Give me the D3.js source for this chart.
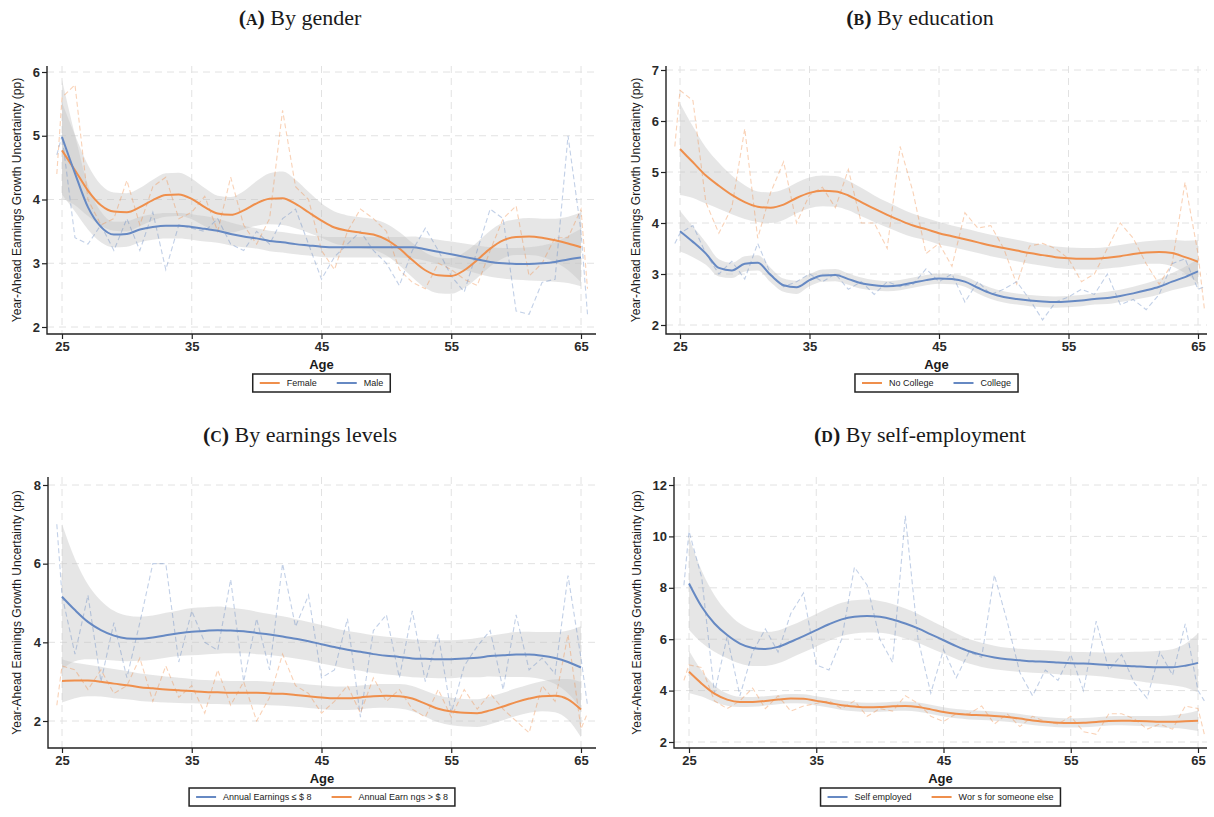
<!DOCTYPE html>
<html>
<head>
<meta charset="utf-8">
<script src="https://cdn.jsdelivr.net/npm/d3@7"></script>
<style>
  body { margin: 0; background: #fff; }
  svg { display: block; }
  .title { font-family: "Liberation Serif", "DejaVu Serif", serif; font-size: 22px; fill: #1a1a1a; }
  .tick text { font-family: "Liberation Sans", Arial, sans-serif; font-size: 13px; font-weight: bold; fill: #2a2a2a; }
  .label { font-family: "Liberation Sans", Arial, sans-serif; fill: #1a1a1a; }
  .legend text { font-family: "Liberation Sans", Arial, sans-serif; font-size: 9px; fill: #1a1a1a; }
</style>
</head>
<body>
<svg id="chart" width="1214" height="817"></svg>
<script>
// raw series: first and last points sit just outside 25 / 65
const rawAges = [24.6,
  25, 26, 27, 28, 29, 30, 31, 32, 33, 34,
  35, 36, 37, 38, 39, 40, 41, 42, 43, 44,
  45, 46, 47, 48, 49, 50, 51, 52, 53, 54,
  55, 56, 57, 58, 59, 60, 61, 62, 63, 64,
  65, 65.5];
const fitAges = [
  25, 26, 27, 28, 29, 30, 31, 32, 33, 34,
  35, 36, 37, 38, 39, 40, 41, 42, 43, 44,
  45, 46, 47, 48, 49, 50, 51, 52, 53, 54,
  55, 56, 57, 58, 59, 60, 61, 62, 63, 64,
  65];
const xTicks = [25, 35, 45, 55, 65];

// (A) gender
const femaleRaw = [4.4,
  5.6, 5.8, 4.0, 3.6, 3.7, 4.3, 3.6, 4.2, 4.35, 3.7,
  3.8, 4.05, 3.5, 4.35, 3.6, 3.3, 3.7, 5.4, 4.2, 4.0,
  3.2, 2.9, 3.5, 3.85, 3.7, 3.5, 2.9, 2.7, 2.6, 3.0,
  2.9, 2.75, 2.65, 3.2, 3.7, 3.9, 2.8, 3.0, 3.4, 3.4,
  3.85, 2.6];
const femaleFit = [
  4.77, 4.46, 4.14, 3.91, 3.81, 3.80, 3.88, 3.99, 4.07, 4.08,
  4.01, 3.88, 3.78, 3.76, 3.83, 3.94, 4.01, 4.02, 3.93, 3.80,
  3.67, 3.56, 3.51, 3.48, 3.45, 3.37, 3.23, 3.05, 2.89, 2.81,
  2.80, 2.89, 3.05, 3.23, 3.36, 3.41, 3.42, 3.40, 3.36, 3.31,
  3.25];
const femaleCI = [
  0.75, 0.55, 0.4, 0.32, 0.3, 0.3, 0.3, 0.32, 0.34, 0.34,
  0.32, 0.3, 0.28, 0.28, 0.3, 0.35, 0.4, 0.42, 0.38, 0.32,
  0.27, 0.25, 0.24, 0.24, 0.24, 0.25, 0.26, 0.27, 0.28, 0.28,
  0.28, 0.28, 0.28, 0.28, 0.28, 0.28, 0.29, 0.3, 0.34, 0.42,
  0.55];
const maleRaw = [4.7,
  5.0, 3.4, 3.3, 3.6, 3.2, 3.7, 3.2, 3.8, 2.9, 3.6,
  3.55, 3.5, 3.7, 3.3, 3.2, 3.5, 3.3, 3.7, 3.85, 3.3,
  2.75, 3.1, 3.3, 3.5, 3.2, 3.0, 2.65, 3.2, 3.55, 3.2,
  2.8, 2.55, 3.2, 3.85, 3.7, 2.25, 2.2, 2.7, 2.75, 5.0,
  3.5, 2.2];
const maleFit = [
  4.98, 4.41, 3.88, 3.57, 3.45, 3.46, 3.53, 3.57, 3.59, 3.59,
  3.57, 3.54, 3.51, 3.46, 3.42, 3.39, 3.35, 3.33, 3.30, 3.28,
  3.26, 3.25, 3.25, 3.25, 3.25, 3.25, 3.25, 3.25, 3.22, 3.18,
  3.14, 3.10, 3.06, 3.02, 3.00, 2.99, 2.99, 3.00, 3.02, 3.06,
  3.09];
const maleCI = [
  0.9, 0.6, 0.35, 0.24, 0.2, 0.2, 0.2, 0.2, 0.2, 0.2,
  0.2, 0.2, 0.19, 0.18, 0.17, 0.16, 0.16, 0.16, 0.16, 0.16,
  0.16, 0.16, 0.16, 0.16, 0.16, 0.16, 0.16, 0.17, 0.18, 0.19,
  0.2, 0.21, 0.22, 0.23, 0.24, 0.25, 0.26, 0.28, 0.31, 0.37,
  0.45];

// (B) education
const noCollegeRaw = [5.5,
  6.6, 6.4, 4.4, 3.8, 4.3, 5.85, 3.7, 4.6, 5.2, 4.0,
  4.55, 4.7, 4.3, 5.05, 4.0, 4.0, 3.5, 5.5, 4.6, 3.4,
  3.6, 3.15, 4.2, 3.9, 3.95, 3.5, 2.8, 3.55, 3.6, 3.5,
  3.3, 2.85, 3.0, 3.5, 4.0, 3.7, 3.2, 2.8, 3.2, 4.8,
  3.4, 2.3];
const noCollegeFit = [
  5.45, 5.19, 4.93, 4.73, 4.55, 4.41, 4.32, 4.30, 4.36, 4.49,
  4.59, 4.63, 4.62, 4.54, 4.41, 4.28, 4.16, 4.05, 3.95, 3.88,
  3.80, 3.74, 3.68, 3.62, 3.56, 3.51, 3.46, 3.41, 3.37, 3.33,
  3.31, 3.30, 3.30, 3.32, 3.35, 3.39, 3.42, 3.43, 3.41, 3.33,
  3.24];
const noCollegeCI = [
  0.9, 0.7, 0.55, 0.45, 0.38, 0.33, 0.3, 0.3, 0.3, 0.3,
  0.3, 0.3, 0.3, 0.29, 0.28, 0.26, 0.25, 0.24, 0.23, 0.22,
  0.22, 0.21, 0.21, 0.21, 0.21, 0.21, 0.21, 0.21, 0.21, 0.21,
  0.21, 0.21, 0.21, 0.21, 0.22, 0.22, 0.22, 0.23, 0.26, 0.32,
  0.42];
const collegeRaw = [3.6,
  3.8, 3.95, 3.4, 3.0, 3.25, 2.9, 3.6, 3.0, 2.75, 2.85,
  3.0, 2.85, 3.0, 2.7, 2.85, 2.6, 2.85, 2.75, 2.8, 3.1,
  2.85, 3.0, 2.45, 2.85, 2.6, 2.7, 2.85, 2.5, 2.1, 2.45,
  2.55, 2.7, 2.6, 3.0, 2.4, 2.5, 2.3, 2.6, 3.2, 3.3,
  2.7, 2.75];
const collegeFit = [
  3.84, 3.63, 3.40, 3.12, 3.07, 3.20, 3.22, 2.98, 2.78, 2.74,
  2.88, 2.97, 2.98, 2.90, 2.82, 2.78, 2.76, 2.78, 2.83, 2.88,
  2.91, 2.90, 2.85, 2.73, 2.62, 2.55, 2.51, 2.48, 2.46, 2.45,
  2.46, 2.48, 2.51, 2.53, 2.57, 2.62, 2.68, 2.75, 2.85, 2.94,
  3.05];
const collegeCI = [
  0.4, 0.3, 0.22, 0.17, 0.15, 0.15, 0.15, 0.14, 0.13, 0.13,
  0.12, 0.12, 0.12, 0.11, 0.11, 0.1, 0.1, 0.1, 0.1, 0.1,
  0.1, 0.1, 0.1, 0.11, 0.11, 0.11, 0.11, 0.11, 0.11, 0.11,
  0.11, 0.11, 0.11, 0.12, 0.12, 0.13, 0.14, 0.15, 0.17, 0.2,
  0.25];

// (C) earnings levels
const lowEarnRaw = [7.0,
  5.2, 3.7, 5.2, 3.0, 4.5, 3.1, 4.5, 6.0, 6.0, 3.5,
  4.8, 4.0, 3.8, 5.6, 3.0, 4.6, 3.3, 6.0, 4.4, 5.2,
  3.1, 3.3, 4.6, 2.1, 4.3, 4.7, 3.1, 4.8, 3.0, 4.2,
  2.2, 3.4, 3.9, 4.3, 2.8, 4.7, 3.3, 3.6, 3.2, 5.7,
  3.6, 2.4];
const lowEarnFit = [
  5.16, 4.82, 4.52, 4.31, 4.17, 4.10, 4.09, 4.12, 4.18, 4.23,
  4.27, 4.29, 4.31, 4.30, 4.28, 4.24, 4.20, 4.15, 4.09, 4.03,
  3.95, 3.88, 3.81, 3.76, 3.70, 3.66, 3.63, 3.59, 3.58, 3.57,
  3.57, 3.59, 3.61, 3.65, 3.67, 3.69, 3.69, 3.66, 3.60, 3.50,
  3.36];
const lowEarnCI = [
  1.85, 1.3, 0.95, 0.75, 0.63, 0.58, 0.56, 0.56, 0.57, 0.58,
  0.6, 0.6, 0.6, 0.58, 0.56, 0.54, 0.52, 0.51, 0.5, 0.49,
  0.49, 0.48, 0.48, 0.48, 0.48, 0.48, 0.48, 0.48, 0.48, 0.48,
  0.48, 0.48, 0.5, 0.52, 0.55, 0.57, 0.58, 0.6, 0.66, 0.8,
  1.05];
const highEarnRaw = [2.4,
  3.4, 3.3, 2.8, 3.3, 2.7, 2.9, 3.6, 2.5, 3.4, 2.6,
  2.9, 2.2, 3.3, 2.4, 3.0, 2.0, 2.6, 3.7, 2.9, 2.7,
  2.2, 2.5, 2.9, 2.2, 3.1, 2.5, 2.8, 2.3, 2.1, 2.8,
  2.1, 2.8, 2.3, 2.7, 2.3, 2.0, 1.7, 2.9, 2.5, 4.2,
  1.8, 2.2];
const highEarnFit = [
  3.02, 3.03, 3.03, 3.00, 2.95, 2.91, 2.86, 2.83, 2.80, 2.78,
  2.76, 2.74, 2.73, 2.72, 2.72, 2.72, 2.70, 2.69, 2.66, 2.63,
  2.60, 2.58, 2.58, 2.60, 2.63, 2.64, 2.63, 2.57, 2.44, 2.31,
  2.24, 2.21, 2.20, 2.27, 2.37, 2.48, 2.57, 2.63, 2.64, 2.55,
  2.29];
const highEarnCI = [
  0.55, 0.45, 0.4, 0.38, 0.37, 0.36, 0.35, 0.34, 0.33, 0.32,
  0.31, 0.3, 0.3, 0.3, 0.3, 0.3, 0.3, 0.3, 0.3, 0.3,
  0.3, 0.3, 0.3, 0.3, 0.3, 0.3, 0.31, 0.32, 0.33, 0.34,
  0.35, 0.35, 0.35, 0.35, 0.35, 0.35, 0.36, 0.38, 0.42, 0.52,
  0.7];

// (D) self-employment
const selfRaw = [8.1,
  10.2, 8.4, 3.9, 6.1, 3.8, 5.5, 6.4, 5.5, 7.0, 7.8,
  5.0, 4.8, 6.0, 8.8, 8.1, 6.0, 5.1, 10.8, 6.0, 3.9,
  5.6, 4.5, 5.5, 5.3, 8.5, 6.7, 4.7, 3.8, 4.8, 4.4,
  5.4, 4.0, 6.7, 4.8, 5.4, 4.3, 3.7, 5.5, 4.6, 6.6,
  4.0, 3.6];
const selfFit = [
  8.17, 7.26, 6.61, 6.16, 5.83, 5.66, 5.62, 5.70, 5.90, 6.12,
  6.35, 6.58, 6.77, 6.87, 6.90, 6.87, 6.77, 6.61, 6.42, 6.19,
  5.96, 5.73, 5.53, 5.39, 5.29, 5.22, 5.18, 5.14, 5.12, 5.09,
  5.06, 5.05, 5.03, 5.00, 4.97, 4.95, 4.92, 4.91, 4.91, 4.97,
  5.08];
const selfCI = [
  1.8, 1.4, 1.1, 0.9, 0.78, 0.7, 0.66, 0.64, 0.63, 0.63,
  0.63, 0.64, 0.65, 0.65, 0.64, 0.62, 0.6, 0.58, 0.56, 0.54,
  0.52, 0.5, 0.48, 0.47, 0.46, 0.45, 0.45, 0.45, 0.45, 0.45,
  0.45, 0.45, 0.46, 0.48, 0.52, 0.56, 0.6, 0.64, 0.7, 0.85,
  1.15];
const otherRaw = [4.4,
  5.0, 4.9, 3.6, 3.3, 3.6, 4.1, 3.3, 3.8, 3.2, 3.4,
  3.5, 3.6, 3.3, 3.6, 3.0, 3.3, 3.2, 3.8, 3.5, 3.0,
  2.8, 3.1, 3.1, 3.4, 2.7, 3.1, 2.6, 3.0, 2.8, 2.7,
  3.0, 2.4, 2.3, 3.1, 3.1, 2.9, 2.5, 2.7, 2.5, 3.4,
  3.3, 2.3];
const otherFit = [
  4.73, 4.27, 3.88, 3.65, 3.56, 3.56, 3.60, 3.65, 3.69, 3.68,
  3.60, 3.52, 3.43, 3.38, 3.35, 3.36, 3.39, 3.40, 3.36, 3.27,
  3.17, 3.10, 3.06, 3.04, 3.01, 2.97, 2.91, 2.84, 2.79, 2.75,
  2.74, 2.75, 2.78, 2.82, 2.83, 2.82, 2.81, 2.79, 2.79, 2.81,
  2.83];
const otherCI = [
  0.82, 0.5, 0.32, 0.24, 0.2, 0.19, 0.18, 0.18, 0.18, 0.18,
  0.18, 0.18, 0.18, 0.18, 0.18, 0.18, 0.18, 0.18, 0.18, 0.18,
  0.18, 0.18, 0.18, 0.18, 0.18, 0.18, 0.18, 0.18, 0.18, 0.18,
  0.18, 0.18, 0.18, 0.18, 0.18, 0.19, 0.2, 0.22, 0.25, 0.3,
  0.4];

const orange = "#ef8f4c";
const blue = "#6689c3";
const yTitle = "Year-Ahead Earnings Growth Uncertainty (pp)";

const panels = [
  {letter: "A", title: "By gender", tx: 300, ty: 25,
   left: 47, right: 596, top: 66, bottom: 334, x25: 62, x65: 581,
   yTicks: [2, 3, 4, 5, 6], yPx: [327, 72], ylx: 21,
   series: [
     {name: "Female", color: orange, raw: femaleRaw, fit: femaleFit, ci: femaleCI},
     {name: "Male", color: blue, raw: maleRaw, fit: maleFit, ci: maleCI}]},
  {letter: "B", title: "By education", tx: 920, ty: 25,
   left: 666, right: 1207, top: 66, bottom: 334, x25: 680, x65: 1198,
   yTicks: [2, 3, 4, 5, 6, 7], yPx: [325, 70], ylx: 640,
   series: [
     {name: "No College", color: orange, raw: noCollegeRaw, fit: noCollegeFit, ci: noCollegeCI},
     {name: "College", color: blue, raw: collegeRaw, fit: collegeFit, ci: collegeCI}]},
  {letter: "C", title: "By earnings levels", tx: 300, ty: 442,
   left: 48, right: 596, top: 477, bottom: 748, x25: 62, x65: 581,
   yTicks: [2, 4, 6, 8], yPx: [721, 485], ylx: 21,
   series: [
     {name: "Annual Earnings \u2264 $ 8", color: blue, raw: lowEarnRaw, fit: lowEarnFit, ci: lowEarnCI},
     {name: "Annual Earn ngs > $ 8", color: orange, raw: highEarnRaw, fit: highEarnFit, ci: highEarnCI}]},
  {letter: "D", title: "By self-employment", tx: 920, ty: 442,
   left: 674, right: 1207, top: 477, bottom: 748, x25: 689, x65: 1198,
   yTicks: [2, 4, 6, 8, 10, 12], yPx: [742, 485], ylx: 641,
   series: [
     {name: "Self employed", color: blue, raw: selfRaw, fit: selfFit, ci: selfCI},
     {name: "Wor  s for someone else", color: orange, raw: otherRaw, fit: otherFit, ci: otherCI}]}
];

const svg = d3.select("#chart");

panels.forEach(drawPanel);

function drawPanel(p) {
  const g = svg.append("g");
  const yt = p.yTicks;
  const x = d3.scaleLinear().domain([25, 65]).range([p.x25, p.x65]);
  const y = d3.scaleLinear().domain([yt[0], yt[yt.length - 1]]).range(p.yPx);

  // título
  const t = g.append("text").attr("class", "title")
    .attr("x", p.tx).attr("y", p.ty).attr("text-anchor", "middle");
  t.append("tspan").attr("font-weight", "bold").text("(");
  t.append("tspan").attr("font-weight", "bold").attr("font-size", "16px").text(p.letter);
  t.append("tspan").attr("font-weight", "bold").text(")");
  t.append("tspan").text(" " + p.title);

  // grid
  const grid = g.append("g")
    .attr("stroke", "#e2e2e2").attr("stroke-width", 1).attr("stroke-dasharray", "7,5");
  grid.selectAll("line.h").data(yt).enter().append("line")
    .attr("x1", p.left).attr("x2", p.right)
    .attr("y1", d => y(d)).attr("y2", d => y(d));
  grid.selectAll("line.v").data(xTicks).enter().append("line")
    .attr("x1", d => x(d)).attr("x2", d => x(d))
    .attr("y1", p.top).attr("y2", p.bottom);

  // bandas de confianza
  const area = d3.area()
    .x((d, i) => x(fitAges[i]))
    .y0(d => y(d.fit - d.ci))
    .y1(d => y(d.fit + d.ci))
    .curve(d3.curveMonotoneX);
  p.series.forEach(s => {
    const pts = s.fit.map((v, i) => ({fit: v, ci: s.ci[i]}));
    g.append("path").datum(pts)
      .attr("d", area)
      .attr("fill", "#c4c4c4").attr("fill-opacity", 0.42);
  });

  // datos crudos
  const rawLine = d3.line().x((d, i) => x(rawAges[i])).y(d => y(d));
  p.series.forEach(s => {
    g.append("path").datum(s.raw)
      .attr("d", rawLine)
      .attr("fill", "none").attr("stroke", s.color)
      .attr("stroke-opacity", 0.4).attr("stroke-width", 1.1)
      .attr("stroke-dasharray", "5,3");
  });

  // ajuste suavizado
  const fitLine = d3.line().x((d, i) => x(fitAges[i])).y(d => y(d)).curve(d3.curveMonotoneX);
  p.series.forEach(s => {
    g.append("path").datum(s.fit)
      .attr("d", fitLine)
      .attr("fill", "none").attr("stroke", s.color).attr("stroke-width", 2);
  });

  // ejes
  const ya = g.append("g").attr("transform", "translate(" + p.left + ",0)")
    .call(d3.axisLeft(y).tickValues(yt).tickFormat(d3.format("d"))
      .tickSize(5).tickPadding(2).tickSizeOuter(0));
  const xa = g.append("g").attr("transform", "translate(0," + p.bottom + ")")
    .call(d3.axisBottom(x).tickValues(xTicks).tickFormat(d3.format("d"))
      .tickSize(5).tickPadding(3).tickSizeOuter(0));
  [ya, xa].forEach(a => {
    a.select(".domain").remove();
    a.selectAll(".tick line").attr("stroke", "#222").attr("stroke-width", 1.2);
  });
  g.append("path")
    .attr("d", "M" + p.left + "," + p.top + "V" + p.bottom + "H" + p.right)
    .attr("fill", "none").attr("stroke", "#222").attr("stroke-width", 1.4);

  // etiquetas
  g.append("text").attr("class", "label")
    .attr("transform", "translate(" + p.ylx + "," + ((p.top + p.bottom) / 2) + ") rotate(-90)")
    .attr("text-anchor", "middle").attr("font-size", "12px")
    .text(yTitle);
  g.append("text").attr("class", "label")
    .attr("x", (p.left + p.right) / 2).attr("y", p.bottom + 35)
    .attr("text-anchor", "middle").attr("font-size", "13px").attr("font-weight", "bold")
    .attr("fill", "#2a2a2a")
    .text("Age");

  leyenda(g, p);
}

function leyenda(g, p) {
  const lg = g.append("g").attr("class", "legend");
  const box = lg.append("rect");
  let cx = 7;
  p.series.forEach(s => {
    const it = lg.append("g").attr("transform", "translate(" + cx + ",0)");
    it.append("line").attr("x1", 0).attr("x2", 20).attr("y1", 9).attr("y2", 9)
      .attr("stroke", s.color).attr("stroke-width", 2);
    const tx = it.append("text").attr("x", 27).attr("y", 12).text(s.name);
    cx += 27 + tx.node().getComputedTextLength() + 20;
  });
  const bw = cx - 20 + 7;
  box.attr("x", 0).attr("y", 0).attr("width", bw).attr("height", 18)
    .attr("fill", "#fff").attr("stroke", "#222").attr("stroke-width", 1.5);
  lg.attr("transform", "translate(" + ((p.left + p.right) / 2 - bw / 2) + "," + (p.bottom + 40) + ")");
}
</script>
</body>
</html>
